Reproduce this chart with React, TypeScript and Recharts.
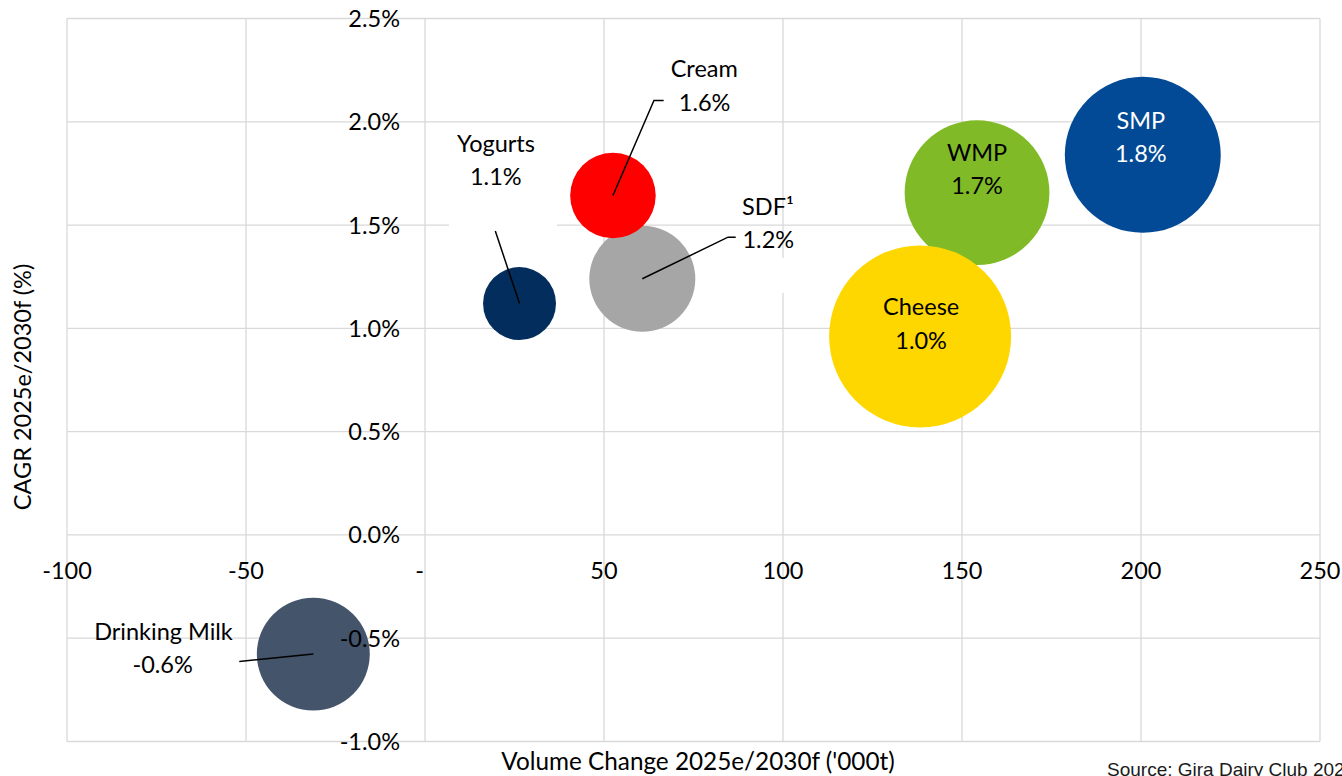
import React from 'react';
import { ScatterChart, Scatter, XAxis, YAxis, ZAxis, CartesianGrid, Cell } from 'recharts';

// ---------- data ----------
const products = ['SMP', 'WMP', 'Cheese', 'SDF', 'Cream', 'Yogurts', 'Drinking Milk'];
const labelNames = ['SMP', 'WMP', 'Cheese', 'SDF\u00B9', 'Cream', 'Yogurts', 'Drinking Milk'];
const volumeChange = [200.5, 154.2, 138.3, 60.7, 52.5, 26.4, -31.2];
const cagr = [1.84, 1.657, 0.961, 1.24, 1.643, 1.12, -0.577];
const bubbleSize = [60.8, 52.4, 82.8, 28.1, 18.3, 13.3, 31.9];
const cagrLabels = ['1.8%', '1.7%', '1.0%', '1.2%', '1.6%', '1.1%', '-0.6%'];
const xTicks = [-100, -50, 0, 50, 100, 150, 200, 250];
const yTicks = [-1, -0.5, 0, 0.5, 1, 1.5, 2, 2.5];

// ---------- styles ----------
const COLORS: Record<string, string> = {
  SMP: '#034A96',
  WMP: '#80BB27',
  Cheese: '#FFD700',
  SDF: '#A6A6A6',
  Cream: '#FF0000',
  Yogurts: '#032D5C',
  'Drinking Milk': '#44546A',
};

type Pt = [number, number];
type Layout = {
  color: string;
  name: Pt;
  value: Pt;
  leader?: Pt[];
  box?: { x: number; y: number; w: number; h: number };
};

const LABELS: Record<string, Layout> = {
  SMP: { color: '#FFFFFF', name: [-2, -34.4], value: [-2, -1.1] },
  WMP: { color: '#000000', name: [0, -40], value: [0, -6.7] },
  Cheese: { color: '#000000', name: [1, -29.5], value: [1, 3.7] },
  SDF: {
    color: '#000000',
    name: [125.7, -72.4],
    value: [126, -39.2],
    leader: [[0, 0], [85.7, -41.6], [93.4, -41.6]],
    box: { x: 95, y: -21, w: 63, h: 35 },
  },
  Cream: {
    color: '#000000',
    name: [91.3, -127.3],
    value: [91.7, -92.7],
    leader: [[0, 0], [41, -95.1], [50.7, -95.1]],
  },
  Yogurts: {
    color: '#000000',
    name: [-23.5, -159.9],
    value: [-23.7, -126.9],
    leader: [[-24.2, -72.6], [0, 0]],
    box: { x: -70.5, y: -178, w: 108, h: 104 },
  },
  'Drinking Milk': {
    color: '#000000',
    name: [-149.8, -22.3],
    value: [-150.7, 10.8],
    leader: [[-74, 7.4], [0, 0]],
  },
};

const FONT = 'Lato, Carlito, "Open Sans", sans-serif';
const FS = 23.5;
const BASE = 8.5; // cap-centre to baseline
const GRID = '#D9D9D9';

const W = 1342;
const H = 776;
const MARGIN = { top: 18.5, right: 22, bottom: 4.5, left: 7 };
const Y_AXIS_W = 60;
const X_AXIS_H = 30;
const X_DOMAIN: [number, number] = [-100, 250];
const Y_DOMAIN: [number, number] = [-1, 2.5];

const PLOT_LEFT = MARGIN.left + Y_AXIS_W;
const PLOT_W = W - PLOT_LEFT - MARGIN.right;
const PLOT_TOP = MARGIN.top;
const PLOT_H = H - MARGIN.top - MARGIN.bottom - X_AXIS_H;
const ZERO_X = PLOT_LEFT + ((0 - X_DOMAIN[0]) / (X_DOMAIN[1] - X_DOMAIN[0])) * PLOT_W;
const ZERO_Y = PLOT_TOP + ((Y_DOMAIN[1] - 0) / (Y_DOMAIN[1] - Y_DOMAIN[0])) * PLOT_H;

const data = products.map((p, i) => ({
  name: p,
  x: volumeChange[i],
  y: cagr[i],
  z: bubbleSize[i],
  label: labelNames[i],
  value: cagrLabels[i],
}));

const XTick = (props: any) => {
  const { x, payload } = props;
  const v = payload.value as number;
  return (
    <text
      x={v === 0 ? x - 5.5 : x}
      y={ZERO_Y + 35.5 + BASE}
      textAnchor="middle"
      fontFamily={FONT}
      fontSize={FS}
      fill="#000"
    >
      {v === 0 ? '-' : String(v)}
    </text>
  );
};

const YTick = (props: any) => {
  const { y, payload } = props;
  const v = payload.value as number;
  return (
    <text x={ZERO_X - 25} y={y + BASE} textAnchor="end" fontFamily={FONT} fontSize={FS} fill="#000">
      {v.toFixed(1) + '%'}
    </text>
  );
};

const XTitle = () => (
  <text x={698} y={770} textAnchor="middle" fontFamily={FONT} fontSize={24.3} fill="#000">
    Volume Change 2025e/2030f ('000t)
  </text>
);

const YTitle = () => (
  <text
    x={31}
    y={387}
    transform="rotate(-90 31 387)"
    textAnchor="middle"
    fontFamily={FONT}
    fontSize={FS}
    fill="#000"
  >
    CAGR 2025e/2030f (%)
  </text>
);

const LabelShape = (props: any) => {
  const { cx, cy, payload } = props;
  const lay = LABELS[payload.name];
  if (!lay) return <g />;
  return (
    <g>
      {lay.box && (
        <rect x={cx + lay.box.x} y={cy + lay.box.y} width={lay.box.w} height={lay.box.h} fill="#FFFFFF" />
      )}
      {lay.leader && (
        <polyline
          points={lay.leader.map(([dx, dy]) => `${cx + dx},${cy + dy}`).join(' ')}
          fill="none"
          stroke="#000"
          strokeWidth={1.5}
        />
      )}
      <text
        x={cx + lay.name[0]}
        y={cy + lay.name[1] + BASE}
        textAnchor="middle"
        fontFamily={FONT}
        fontSize={FS}
        fill={lay.color}
      >
        {payload.label}
      </text>
      <text
        x={cx + lay.value[0]}
        y={cy + lay.value[1] + BASE}
        textAnchor="middle"
        fontFamily={FONT}
        fontSize={FS}
        fill={lay.color}
      >
        {payload.value}
      </text>
    </g>
  );
};

export default function App() {
  return (
    <div style={{ position: 'absolute', left: 0, top: 0, width: W, height: H, background: '#fff', overflow: 'hidden' }}>
      <ScatterChart width={W} height={H} margin={MARGIN}>
        <CartesianGrid stroke={GRID} strokeWidth={1.3} />
        <XAxis
          type="number"
          dataKey="x"
          domain={X_DOMAIN}
          ticks={xTicks}
          interval={0}
          axisLine={false}
          tickLine={false}
          height={X_AXIS_H}
          tick={<XTick />}
          label={<XTitle />}
          allowDataOverflow
        />
        <YAxis
          type="number"
          dataKey="y"
          domain={Y_DOMAIN}
          ticks={yTicks}
          interval={0}
          axisLine={false}
          tickLine={false}
          width={Y_AXIS_W}
          tick={<YTick />}
          label={<YTitle />}
          allowDataOverflow
        />
        <ZAxis type="number" dataKey="z" domain={[0, 100]} range={[0, Math.PI * 10000]} />
        <Scatter data={data} isAnimationActive={false}>
          {data.map((d) => (
            <Cell key={d.name} fill={COLORS[d.name]} />
          ))}
        </Scatter>
        <Scatter data={data} isAnimationActive={false} shape={<LabelShape />} />
      </ScatterChart>
      <div
        style={{
          position: 'absolute',
          left: 1107,
          top: 760,
          fontFamily: '"Liberation Sans", Arial, sans-serif',
          fontSize: 19,
          lineHeight: '20px',
          color: '#1a1a1a',
          whiteSpace: 'nowrap',
        }}
      >
        Source: Gira Dairy Club 2025
      </div>
    </div>
  );
}
